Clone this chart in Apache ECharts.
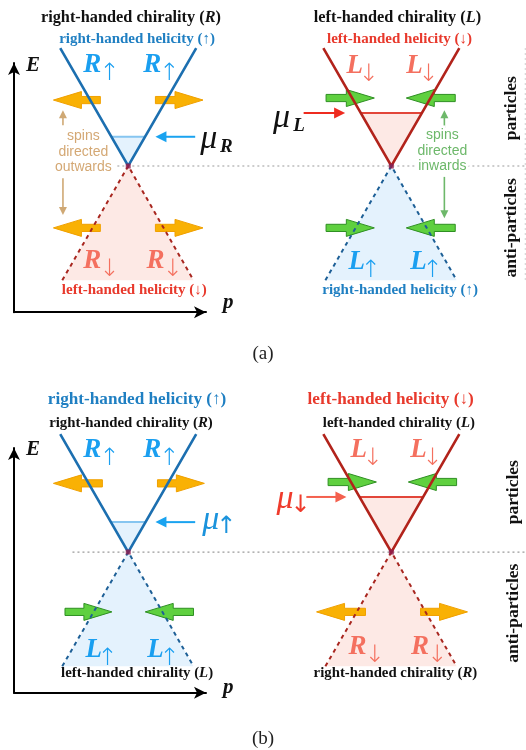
<!DOCTYPE html>
<html><head><meta charset="utf-8">
<script src="https://cdn.jsdelivr.net/npm/echarts@6/dist/echarts.min.js"></script>
<style>html,body{margin:0;padding:0;background:#fff}#c{width:526px;height:750px}</style>
</head><body><div id="c"></div>
<script>
// ================= DATA (p, E units; each cone apex sits at E = 0) =================
const coneCentres = [0, 3.87];                       // p of left / right cone apex
const coneUpper = [[-1.0, 1.735], [0, 0], [1.0, 1.735]];
const coneLower = [[-0.97, -1.68], [0, 0], [0.96, -1.68]];
const muFillA = [[[-0.25, 0.43], [0, 0], [0.25, 0.43]], [[-0.45, 0.78], [0, 0], [0.45, 0.78]]];
const muFillB = [[[-0.25, 0.44], [0, 0], [0.25, 0.44]], [[-0.47, 0.81], [0, 0], [0.47, 0.81]]];
const zeroLineA = [[-0.16, 0], [5.85, 0]];
const zeroLineB = [[-0.82, 0], [5.85, 0]];
const sideLineA = [[5.84, 1.735], [5.84, -1.72]];

// spin block arrows: [p tail, p tip, E]
const spinArrowsA = [[-0.41, -1.10, 0.97], [0.40, 1.10, 0.97], [-0.41, -1.10, -0.91], [0.40, 1.10, -0.91],
                     [2.91, 3.62, 1.00], [4.81, 4.09, 1.00], [2.91, 3.62, -0.91], [4.81, 4.09, -0.91]];
const spinKindsA = ['out', 'out', 'out', 'out', 'in', 'in', 'in', 'in'];
const spinArrowsB = [[-0.38, -1.10, 1.01], [0.43, 1.12, 1.01], [-0.93, -0.24, -0.88], [0.96, 0.25, -0.88],
                     [2.94, 3.65, 1.03], [4.83, 4.12, 1.03], [3.49, 2.77, -0.88], [4.30, 4.99, -0.88]];
const spinKindsB = ['out', 'out', 'in', 'in', 'in', 'in', 'out', 'out'];

// thin arrows: [p from, E from, p to, E to]
const thinArrowsA = [[-0.96, 0.60, -0.96, 0.82], [-0.96, -0.18, -0.96, -0.72],
                     [4.65, 0.56, 4.65, 0.82], [4.65, -0.16, 4.65, -0.77],
                     [0.985, 0.43, 0.40, 0.43], [2.58, 0.78, 3.19, 0.78]];
const thinKindsA = ['tan', 'tan', 'green', 'green', 'muBlue', 'muRed'];
const thinArrowsB = [[0.985, 0.44, 0.40, 0.44], [2.62, 0.81, 3.21, 0.81]];
const thinKindsB = ['muBlue', 'muRedB'];

// text labels: [p, E, text ('|' toggles italic), style]
const labelsA = [
  [0.04, 2.18, 'right-handed chirality (|R|)', 'chirA'],
  [0.13, 1.87, 'right-handed helicity (↑)', 'helAb'],
  [3.96, 2.18, 'left-handed chirality (|L|)', 'chirA'],
  [3.99, 1.87, 'left-handed helicity (↓)', 'helAr'],
  [0.09, -1.82, 'left-handed helicity (↓)', 'helAr'],
  [4.00, -1.82, 'right-handed helicity (↑)', 'helAb'],
  [-0.66, 0.21, 'spins\ndirected\noutwards', 'spinTan'],
  [4.62, 0.22, 'spins\ndirected\ninwards', 'spinGreen'],
  [5.63, 0.85, 'particles', 'side'],
  [5.63, -0.91, 'anti-particles', 'side'],
  [-1.40, 1.47, 'E', 'axisT'],
  [1.47, -2.01, 'p', 'axisT']
];
const labelsB = [
  [0.13, 2.24, 'right-handed helicity (↑)', 'helBb'],
  [0.04, 1.90, 'right-handed chirality (|R|)', 'chirB'],
  [3.86, 2.24, 'left-handed helicity (↓)', 'helBr'],
  [3.98, 1.90, 'left-handed chirality (|L|)', 'chirB'],
  [0.13, -1.78, 'left-handed chirality (|L|)', 'chirB'],
  [3.93, -1.78, 'right-handed chirality (|R|)', 'chirB'],
  [5.66, 0.88, 'particles', 'side'],
  [5.66, -0.90, 'anti-particles', 'side'],
  [-1.40, 1.51, 'E', 'axisT'],
  [1.47, -1.99, 'p', 'axisT']
];
// symbols: [p, E, main, subscript, style]
const symbolsA = [
  [-0.66, 1.49, 'R', '↑', 'symBlue'], [0.22, 1.49, 'R', '↑', 'symBlue'],
  [-0.66, -1.40, 'R', '↓', 'symSalmon'], [0.27, -1.40, 'R', '↓', 'symSalmon'],
  [3.21, 1.47, 'L', '↓', 'symSalmon'], [4.09, 1.47, 'L', '↓', 'symSalmon'],
  [3.24, -1.41, 'L', '↑', 'symBlue'], [4.15, -1.41, 'L', '↑', 'symBlue'],
  [1.06, 0.40, 'μ', 'R', 'muBlack'], [2.13, 0.70, 'μ', 'L', 'muBlack']
];
const symbolsB = [
  [-0.66, 1.50, 'R', '↑', 'symBlue'], [0.22, 1.50, 'R', '↑', 'symBlue'],
  [-0.63, -1.44, 'L', '↑', 'symBlue'], [0.28, -1.44, 'L', '↑', 'symBlue'],
  [3.27, 1.50, 'L', '↓', 'symSalmon'], [4.15, 1.50, 'L', '↓', 'symSalmon'],
  [3.24, -1.40, 'R', '↓', 'symSalmon'], [4.16, -1.40, 'R', '↓', 'symSalmon'],
  [1.09, 0.47, 'μ', '↑', 'muBlue'], [2.18, 0.78, 'μ', '↓', 'muRed']
];

// ================= STYLES =================
const SERIF = '"Liberation Serif", "Times New Roman", serif';
const SANS = '"Liberation Sans", Arial, sans-serif';
const ARROWFONT = '"DejaVu Sans", sans-serif';
const LINE = { blue: '#1c6fb0', red: '#b2231b' };
const DASH = { blue: '#1d5f96', red: '#a8261f' };
const FILL = { blue: '#e4f2fd', red: '#fde9e5' };
const EDGE = { blue: '#86c5f0', red: '#e2463a' };
const BLOCK = { out: { fill: '#f9b104', stroke: '#f0a000' }, in: { fill: '#5fd03f', stroke: '#2e8f22' } };
const THIN = {
  tan: { color: '#cfa874', w: 1.6, head: 8, hw: 4 },
  green: { color: '#6db86a', w: 1.6, head: 8, hw: 4 },
  muBlue: { color: '#1aa3f0', w: 2, head: 11, hw: 5.5 },
  muRed: { color: '#ee2b1f', w: 2, head: 11, hw: 5.5 },
  muRedB: { color: '#f4604e', w: 2, head: 11, hw: 5.5 }
};
function tok(size, color, weight, style, family) {
  return { fontSize: size, fill: color, fontWeight: weight || 'bold', fontStyle: style || 'normal', fontFamily: family || SERIF };
}
const TXT = {
  chirA: { size: 16.3, color: '#111' },
  chirB: { size: 14.8, color: '#111' },
  helAb: { size: 15, color: '#1f7fc2' },
  helBb: { size: 17.2, color: '#1f7fc2' },
  helAr: { size: 15, color: '#e8392c' },
  helBr: { size: 17.2, color: '#e8392c' },
  spinTan: { size: 14, color: '#d4a874', family: SANS, weight: 'normal', lh: 15.5, halo: true },
  spinGreen: { size: 14, color: '#6db86a', family: SANS, weight: 'normal', lh: 15.5, halo: true },
  side: { size: 17.5, color: '#111', rot: Math.PI / 2 },
  axisT: { size: 21, color: '#111', italic: true }
};
const SYM = {
  symBlue: { main: tok(27, '#1a9ff0', 'bold', 'italic'), sub: tok(24, '#1a9ff0', 300, 'normal', ARROWFONT), dx: 26, dxL: 22, dy: 9 },
  symSalmon: { main: tok(27, '#f4705f', 'bold', 'italic'), sub: tok(24, '#f4705f', 300, 'normal', ARROWFONT), dx: 26, dxL: 22, dy: 9 },
  muBlack: { main: tok(34, '#111', 'normal', 'italic'), sub: tok(19, '#111', 'bold', 'italic'), dx: 26, dxL: 24, dy: 8 },
  muBlue: { main: tok(34, '#1b93dc', 'normal', 'italic'), sub: tok(24, '#1b93dc', 'normal', 'normal', ARROWFONT), dx: 24, dxL: 24, dy: 7 },
  muRed: { main: tok(34, '#ef3b2c', 'normal', 'italic'), sub: tok(24, '#ef3b2c', 'normal', 'normal', ARROWFONT), dx: 24, dxL: 24, dy: 7 }
};

// ================= RENDERERS =================
function shift(pts, c) { return pts.map(q => [q[0] + c, q[1]]); }
function dummy(list) { return list.map(() => [0, 0]); }

function pathRenderer(paths, styles) {
  return function (params, api) {
    const pts = paths[params.dataIndex].map(q => api.coord(q));
    return { type: 'polyline', shape: { points: pts }, style: Object.assign({ fill: null }, styles[params.dataIndex]) };
  };
}
function polyRenderer(polys, kinds, withEdge) {
  return function (params, api) {
    const pts = polys[params.dataIndex].map(q => api.coord(q));
    const col = kinds[params.dataIndex];
    const children = [{ type: 'polygon', shape: { points: pts }, style: { fill: FILL[col] } }];
    if (withEdge) children.push({ type: 'line', shape: { x1: pts[0][0], y1: pts[0][1], x2: pts[2][0], y2: pts[2][1] }, style: { stroke: EDGE[col], lineWidth: 2 } });
    return { type: 'group', children };
  };
}
function blockRenderer(list, kinds) {
  return function (params, api) {
    const it = list[params.dataIndex];
    const a = api.coord([it[0], it[2]]), b = api.coord([it[1], it[2]]);
    const d = b[0] > a[0] ? 1 : -1, y = a[1];
    const HL = 28, HS = 3.6, HH = 8.5, n = b[0] - d * HL;
    const c = BLOCK[kinds[params.dataIndex]];
    return { type: 'polygon', shape: { points: [[a[0], y - HS], [n, y - HS], [n, y - HH], [b[0], y], [n, y + HH], [n, y + HS], [a[0], y + HS]] },
      style: { fill: c.fill, stroke: c.stroke, lineWidth: 1 } };
  };
}
function thinRenderer(list, kinds) {
  return function (params, api) {
    const it = list[params.dataIndex];
    const a = api.coord([it[0], it[1]]), b = api.coord([it[2], it[3]]);
    const st = THIN[kinds[params.dataIndex]];
    const dx = b[0] - a[0], dy = b[1] - a[1], L = Math.hypot(dx, dy), ux = dx / L, uy = dy / L;
    const bx = b[0] - ux * st.head, by = b[1] - uy * st.head;
    return { type: 'group', children: [
      { type: 'line', shape: { x1: a[0], y1: a[1], x2: bx + ux, y2: by + uy }, style: { stroke: st.color, lineWidth: st.w } },
      { type: 'polygon', shape: { points: [[b[0], b[1]], [bx - uy * st.hw, by + ux * st.hw], [bx + uy * st.hw, by - ux * st.hw]] }, style: { fill: st.color } }
    ] };
  };
}
function labelRenderer(list) {
  return function (params, api) {
    const it = list[params.dataIndex];
    const pt = api.coord([it[0], it[1]]);
    const s = TXT[it[3]];
    const base = tok(s.size, s.color, s.weight, s.italic ? 'italic' : 'normal', s.family);
    let style;
    if (it[2].indexOf('|') >= 0) {
      const parts = it[2].split('|');
      style = { text: parts.map((t, i) => t ? '{' + (i % 2 ? 'i' : 'm') + '|' + t + '}' : '').join(''),
        rich: { m: base, i: Object.assign({}, base, { fontStyle: 'italic' }) } };
    } else {
      style = Object.assign({ text: it[2] }, base);
      if (s.lh) style.lineHeight = s.lh;
    }
    if (s.halo) { style.stroke = '#fff'; style.lineWidth = 5; }
    style.align = 'center'; style.verticalAlign = 'middle';
    return { type: 'text', x: pt[0], y: pt[1], rotation: s.rot || 0, style };
  };
}
function symRenderer(list) {
  return function (params, api) {
    const it = list[params.dataIndex];
    const pt = api.coord([it[0], it[1]]);
    const s = SYM[it[4]];
    const dx = it[2] === 'L' ? s.dxL : s.dx;
    return { type: 'group', children: [
      { type: 'text', x: pt[0], y: pt[1], style: Object.assign({ text: it[2], align: 'left', verticalAlign: 'middle' }, s.main) },
      { type: 'text', x: pt[0] + dx, y: pt[1] + s.dy, style: Object.assign({ text: it[3], align: 'center', verticalAlign: 'middle' }, s.sub) }
    ] };
  };
}

// ================= PANELS =================
function panelSeries(g, cfg) {
  const ax = { xAxisIndex: g, yAxisIndex: g };
  const custom = (z, renderItem, n) => Object.assign({ type: 'custom', clip: false, z, silent: true, renderItem, data: dummy(n) }, ax);
  const S = [];
  const fillPolys = coneCentres.map(c => shift(coneLower, c));
  S.push(custom(1, polyRenderer(fillPolys, cfg.bottom, false), fillPolys));
  const muPolys = cfg.mu.map((m, i) => shift(m, coneCentres[i]));
  S.push(custom(2, polyRenderer(muPolys, cfg.top, true), muPolys));
  const guides = [cfg.zero], guideStyles = [{ stroke: '#9a9a9a', lineWidth: 1.2, lineDash: [2, 3] }];
  if (cfg.side) { guides.push(cfg.side); guideStyles.push({ stroke: '#cfcfcf', lineWidth: 1, lineDash: [2, 3] }); }
  S.push(custom(2, pathRenderer(guides, guideStyles), guides));
  S.push(custom(3, blockRenderer(cfg.blocks, cfg.blockKinds), cfg.blocks));
  const cones = [], coneStyles = [];
  coneCentres.forEach((c, i) => {
    cones.push(shift(coneUpper, c)); coneStyles.push({ stroke: LINE[cfg.top[i]], lineWidth: 2.6 });
    cones.push(shift(coneLower, c)); coneStyles.push({ stroke: DASH[cfg.bottom[i]], lineWidth: 2, lineDash: [4, 4] });
  });
  S.push(custom(4, pathRenderer(cones, coneStyles), cones));
  S.push(Object.assign({ type: 'scatter', clip: false, z: 5, silent: true, symbol: 'rect', symbolSize: 5,
    itemStyle: { color: '#8e1d4f' }, data: coneCentres.map(c => [c, 0]) }, ax));
  S.push(custom(5, thinRenderer(cfg.thin, cfg.thinKinds), cfg.thin));
  S.push(custom(6, labelRenderer(cfg.labels), cfg.labels));
  S.push(custom(6, symRenderer(cfg.symbols), cfg.symbols));
  return S;
}

const seriesA = panelSeries(0, { top: ['blue', 'red'], bottom: ['red', 'blue'], mu: muFillA, zero: zeroLineA, side: sideLineA,
  blocks: spinArrowsA, blockKinds: spinKindsA, thin: thinArrowsA, thinKinds: thinKindsA, labels: labelsA, symbols: symbolsA });
const seriesB = panelSeries(1, { top: ['blue', 'red'], bottom: ['blue', 'red'], mu: muFillB, zero: zeroLineB, side: null,
  blocks: spinArrowsB, blockKinds: spinKindsB, thin: thinArrowsB, thinKinds: thinKindsB, labels: labelsB, symbols: symbolsB });

function axisCommon(min, max, g) {
  return { type: 'value', gridIndex: g, min, max, splitLine: { show: false }, axisTick: { show: false }, axisLabel: { show: false },
    axisLine: { show: true, onZero: false, symbol: ['none', 'arrow'], symbolSize: [9, 12], lineStyle: { color: '#000', width: 2 } } };
}

const chart = echarts.init(document.getElementById('c'), null, { renderer: 'canvas' });
chart.setOption({
  animation: false,
  backgroundColor: '#fff',
  title: [
    { text: '(a)', left: 'center', top: 340, textStyle: { fontFamily: SERIF, fontWeight: 'normal', fontSize: 19, color: '#222' } },
    { text: '(b)', left: 'center', top: 725, textStyle: { fontFamily: SERIF, fontWeight: 'normal', fontSize: 19, color: '#222' } }
  ],
  grid: [
    { left: 14, top: 63, width: 192, height: 249.2 },
    { left: 14, top: 448, width: 192, height: 244.8 }
  ],
  xAxis: [axisCommon(-1.68, 1.144, 0), axisCommon(-1.68, 1.144, 1)],
  yAxis: [axisCommon(-2.15, 1.515, 0), axisCommon(-2.07, 1.53, 1)],
  series: seriesA.concat(seriesB)
});
</script></body></html>
